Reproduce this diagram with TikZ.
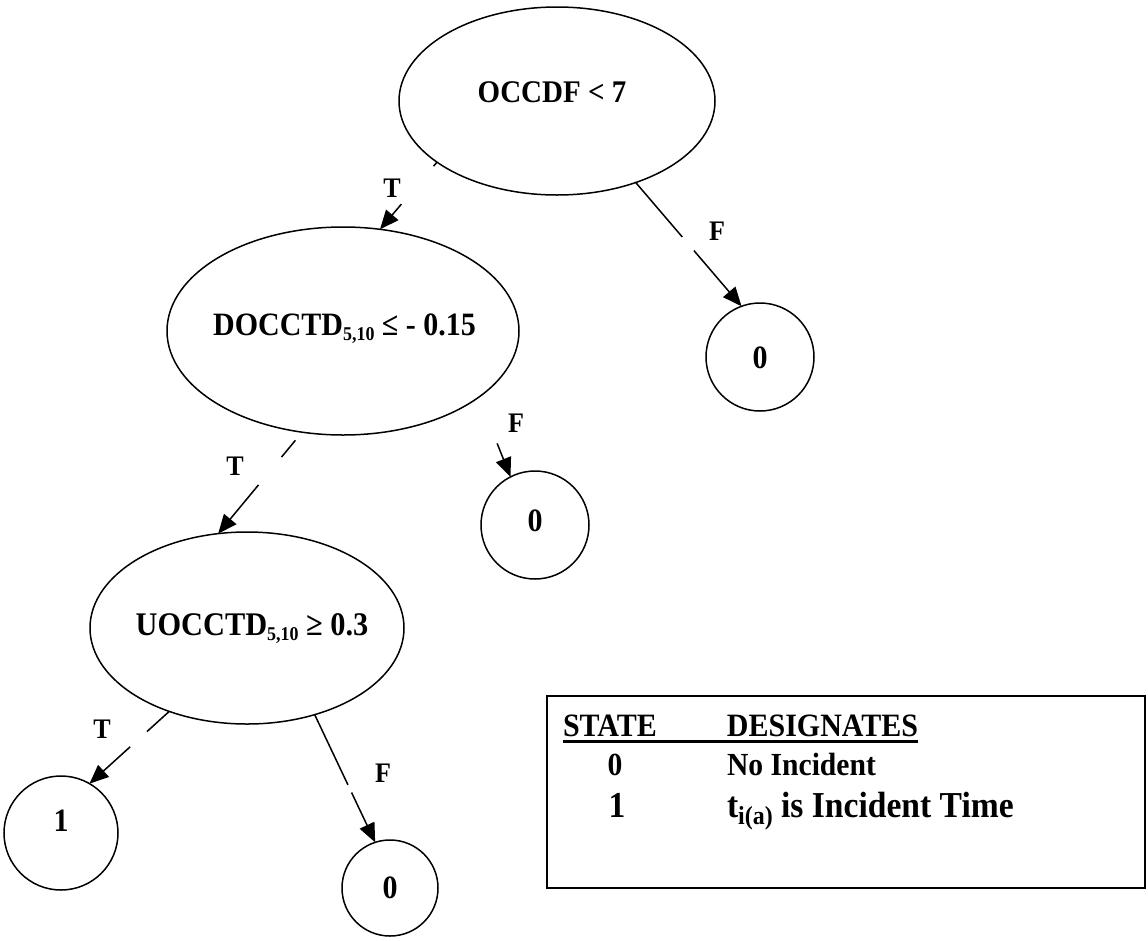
\documentclass[tikz,border=0pt]{standalone}
\usepackage{fontspec}
\setmainfont[FakeStretch=0.92]{Liberation Serif}
\usetikzlibrary{arrows.meta,calc,shapes.geometric}
\newcommand{\ctr}[2]{\makebox[0pt]{\raisebox{#1}[0pt][0pt]{#2}}}
\newcommand{\dn}[3]{\raisebox{#1}{\fontsize{#2}{#2}\selectfont #3}}
\begin{document}
\begin{tikzpicture}[x=1pt,y=-1pt,
  every node/.style={inner sep=0pt, outer sep=0pt},
  cond/.style={draw, ellipse, line width=1.5pt},
  leaf/.style={draw, circle, line width=1.5pt, font=\fontsize{32.6pt}{32.6pt}\selectfont\bfseries},
  conn/.style={line width=1.5pt},
  arr/.style={conn, -{Triangle[length=19pt,width=16pt]}},
  lab/.style={font=\fontsize{28.3pt}{28.3pt}\selectfont\bfseries}]

\useasboundingbox (0,0) rectangle (1148,940);

% condition ellipses
\node[cond, minimum width=316pt, minimum height=188pt, font=\fontsize{31.5pt}{31.5pt}\selectfont\bfseries] (e1) at (557,101) {\ctr{-1.4pt}{OCCDF < 7\hspace{10pt}}};
\node[cond, minimum width=352pt, minimum height=208pt, font=\fontsize{32.6pt}{32.6pt}\selectfont\bfseries] (e2) at (343,331) {\ctr{-4.8pt}{\hspace{3pt}DOCCTD\dn{-5pt}{19.5pt}{5,10} ≤ - 0.15}};
\node[cond, minimum width=314pt, minimum height=192pt, font=\fontsize{33pt}{33pt}\selectfont\bfseries] (e3) at (247,628) {\ctr{-7.9pt}{\hspace{10pt}UOCCTD\dn{-5pt}{19.5pt}{5,10} ≥ 0.3}};

% leaves
\node[leaf, minimum size=108pt] (cR) at (760,357) {\ctr{-11pt}{0}};
\node[leaf, minimum size=108pt] (cM) at (535,525) {\ctr{-6pt}{0}};
\node[leaf, minimum size=114pt] (c1) at (61,833) {\ctr{2pt}{1}};
\node[leaf, minimum size=96pt] (cB) at (390,888) {\ctr{-10pt}{0}};

% connectors (broken where the labels sit)
\coordinate (a1) at ($(e1.207)!0.06!(e2.70)$);
\coordinate (a2) at ($(e1.207)!0.625!(e2.70)$);
\draw[conn] (e1.207) -- (a1);
\draw[arr] (a2) -- (e2.70);

\coordinate (b1) at ($(e1.314)!0.44!(cR.110)$);
\coordinate (b2) at ($(e1.314)!0.55!(cR.110)$);
\draw[conn] (e1.314) -- (b1);
\draw[arr] (b2) -- (cR.110);

\coordinate (c0) at ($(e2.248)!0.08!(e3.107)$);
\coordinate (c1p) at ($(e2.248)!0.245!(e3.107)$);
\coordinate (c2) at ($(e2.248)!0.52!(e3.107)$);
\draw[conn] (c0) -- (c1p);
\draw[arr] (c2) -- (e3.107);

\coordinate (d2) at ($(e2.334)!0.58!(cM.117)$);
\draw[arr] (d2) -- (cM.117);

\coordinate (f1) at ($(e3.227)!0.28!(c1.60)$);
\coordinate (f2) at ($(e3.227)!0.49!(c1.60)$);
\draw[conn] (e3.227) -- (f1);
\draw[arr] (f2) -- (c1.60);

\coordinate (g1) at ($(e3.308)!0.55!(cB.108)$);
\coordinate (g2) at ($(e3.308)!0.61!(cB.108)$);
\draw[conn] (e3.308) -- (g1);
\draw[arr] (g2) -- (cB.108);

% branch labels
\node[lab] (t1) at (392,188) {T};
\node[lab] (f1l) at (717,231) {F};
\node[lab] (t2) at (235,466) {T};
\node[lab] (f2l) at (516,423) {F};
\node[lab] (t3) at (102,729) {T};
\node[lab] (f3l) at (383,773) {F};

% legend
\node[draw, line width=1.5pt, minimum width=598pt, minimum height=192pt, anchor=north west] (box) at (547,696) {};
\node[anchor=base west, font=\fontsize{32.6pt}{32.6pt}\selectfont\bfseries] (hdr) at (563,736) {\makebox[164pt][l]{STATE}DESIGNATES};
\draw[line width=3pt] ([yshift=-5pt]hdr.base west) -- ([yshift=-5pt]hdr.base east);
\node[anchor=base, font=\fontsize{32.2pt}{32.2pt}\selectfont\bfseries] (s0) at (615,775) {0};
\node[anchor=base west, font=\fontsize{32.2pt}{32.2pt}\selectfont\bfseries] (d0) at (727,775) {No Incident};
\node[anchor=base, font=\fontsize{36.5pt}{36.5pt}\selectfont\bfseries] (s1) at (617,817) {1};
\node[anchor=base west, font=\fontsize{36.5pt}{36.5pt}\selectfont\bfseries] (d1) at (727,817) {t\dn{-7pt}{26pt}{i(a)} is Incident Time};
\end{tikzpicture}
\end{document}
